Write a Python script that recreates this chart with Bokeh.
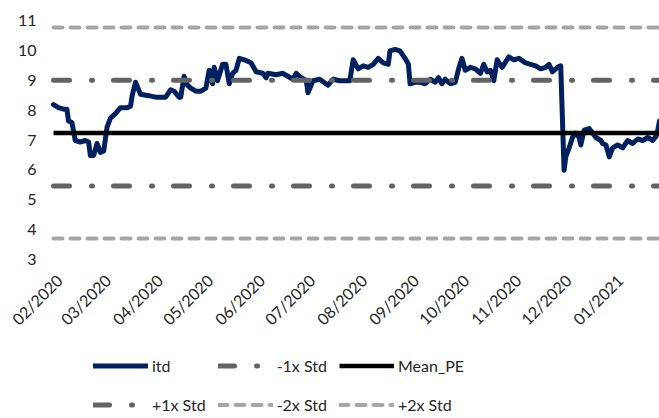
import numpy as np
import pandas as pd
from math import pi
from bokeh.plotting import figure
from bokeh.models import Range1d, Legend, LegendItem
from bokeh.core.properties import value
from bokeh.embed import file_html
from bokeh.resources import INLINE

start_date = "2020-02-01"
# days since start_date for each observation
day_offsets = [0, 3, 6, 8, 9, 11, 13, 16, 19, 21, 22, 24, 26, 28, 30, 32, 34, 37, 40, 44,
               46, 47, 49, 52, 57, 61, 67, 70, 72, 75, 76, 78, 80, 82, 85, 88, 91, 93, 95, 96,
               98, 101, 103, 105, 107, 109, 111, 114, 118, 121, 125, 127, 128, 133, 137, 140, 143, 145, 148, 151,
               152, 155, 159, 164, 167, 171, 174, 177, 179, 180, 182, 185, 188, 191, 194, 197, 200, 201, 204, 207,
               210, 212, 213, 216, 219, 222, 225, 228, 230, 232, 234, 237, 240, 242, 244, 246, 249, 252, 255, 257,
               259, 261, 263, 265, 268, 272, 275, 278, 282, 285, 288, 291, 294, 296, 298, 301, 303, 305, 306, 308,
               310, 312, 314, 315, 317, 320, 322, 324, 327, 328, 330, 332, 334, 337, 340, 343, 346, 349, 352, 355,
               358, 360, 361, 362]
itd = [8.15, 8.05, 8.0, 8.0, 7.6, 7.55, 6.95, 6.9, 6.95, 6.9, 6.45, 6.45, 6.85, 6.55, 6.6, 7.4, 7.7, 7.85, 8.05, 8.05,
       8.1, 8.45, 8.9, 8.5, 8.45, 8.4, 8.4, 8.65, 8.6, 8.4, 8.4, 9.1, 8.8, 8.7, 8.6, 8.6, 8.7, 9.3, 8.85, 9.4,
       8.95, 9.5, 9.5, 8.85, 9.2, 9.3, 9.7, 9.65, 9.55, 9.25, 9.2, 9.05, 9.2, 9.15, 9.2, 9.1, 9.0, 9.2, 9.05, 8.95,
       8.55, 8.95, 9.0, 8.8, 9.0, 8.95, 8.95, 8.95, 9.65, 9.55, 9.35, 9.45, 9.4, 9.5, 9.7, 9.55, 9.5, 9.95, 10.0, 9.95,
       9.7, 9.5, 8.85, 8.9, 8.9, 8.85, 9.0, 8.9, 9.05, 8.85, 9.0, 8.85, 8.9, 9.35, 9.7, 9.3, 9.4, 9.35, 9.2, 9.5,
       9.25, 9.3, 8.95, 9.65, 9.4, 9.75, 9.65, 9.7, 9.55, 9.5, 9.45, 9.35, 9.4, 9.5, 9.25, 9.4, 9.45, 5.95, 6.4, 6.7,
       7.05, 7.2, 7.05, 6.8, 7.3, 7.35, 7.2, 7.05, 6.95, 6.85, 6.8, 6.4, 6.7, 6.8, 6.7, 6.95, 6.85, 7.0, 6.95, 7.05,
       6.95, 7.1, 7.3, 7.6]

mean_pe = 7.2
plus_1x_std = 8.97
minus_1x_std = 5.43
plus_2x_std = 10.73
minus_2x_std = 3.67

month_labels = ["02/2020", "03/2020", "04/2020", "05/2020", "06/2020", "07/2020",
                "08/2020", "09/2020", "10/2020", "11/2020", "12/2020", "01/2021"]
y_ticks = [3, 4, 5, 6, 7, 8, 9, 10, 11]
y_tick_labels = ["3", "4", "5", "6", "7", "8", "9", "10", "11"]
y_min, y_max = 3, 11

start = pd.Timestamp(start_date)
tick_days = [int((pd.to_datetime(m, format="%m/%Y") - start).days) for m in month_labels]

FONT = "Lato"
TXT = "#262626"

# page geometry of the original chart
W, H = 659, 418
PLOT_TOP, PLOT_LEFT, PLOT_BOTTOM = 19, 53, 258
px_per_unit = (PLOT_BOTTOM - PLOT_TOP) / (y_max - y_min)
px_per_day = (W - PLOT_LEFT) / (day_offsets[-1] - day_offsets[0])
# the drawing area covers the whole canvas, so the date labels and the legend
# (which sit outside the plotting area in the original) are not clipped
y_lo = y_min - (H - PLOT_BOTTOM) / px_per_unit
y_hi = y_max + PLOT_TOP / px_per_unit
x_lo = day_offsets[0] - PLOT_LEFT / px_per_day

p = figure(width=W, height=H, output_backend="svg", toolbar_location=None,
           x_range=Range1d(x_lo, day_offsets[-1]), y_range=Range1d(y_lo, y_hi),
           min_border=0)
p.outline_line_color = None
p.grid.grid_line_color = None
p.background_fill_color = "white"
p.border_fill_color = "white"
p.xaxis.visible = False
p.yaxis.visible = False

xs = [day_offsets[0], day_offsets[-1]]
r_itd = p.line(day_offsets, itd, line_color="#002060", line_width=5, line_join="round", line_cap="round")
dd1 = "16 22 1 21"
r_m1 = p.line(xs, [minus_1x_std] * 2, line_color="#636363", line_width=5, line_dash=dd1, line_cap="round")
r_mean = p.line(xs, [mean_pe] * 2, line_color="black", line_width=4.5)
r_p1 = p.line(xs, [plus_1x_std] * 2, line_color="#636363", line_width=5, line_dash=dd1, line_cap="round")
dd2 = "9 8"
r_m2 = p.line(xs, [minus_2x_std] * 2, line_color="#A6A6A6", line_width=4, line_dash=dd2, line_cap="round")
r_p2 = p.line(xs, [plus_2x_std] * 2, line_color="#A6A6A6", line_width=4, line_dash=dd2, line_cap="round")

# value axis labels
p.text(x=[day_offsets[0]] * len(y_ticks), y=y_ticks, text=y_tick_labels,
       text_align="right", text_baseline="middle", x_offset=-17, y_offset=1,
       text_font=value(FONT), text_font_size="16px", text_color=TXT)
# date axis labels
p.text(x=tick_days, y=[y_min] * len(tick_days), text=month_labels, angle=pi / 4,
       text_align="right", text_baseline="top", x_offset=-1, y_offset=12,
       text_font=value(FONT), text_font_size="16px", text_color=TXT)

legend = Legend(items=[
    LegendItem(label="itd", renderers=[r_itd]),
    LegendItem(label="-1x Std", renderers=[r_m1]),
    LegendItem(label="Mean_PE", renderers=[r_mean]),
    LegendItem(label="+1x Std", renderers=[r_p1]),
    LegendItem(label="-2x Std", renderers=[r_m2]),
    LegendItem(label="+2x Std", renderers=[r_p2]),
], location=(93, 0), orientation="horizontal", ncols=3)
legend.glyph_width = 55
legend.glyph_height = 27
legend.label_height = 27
legend.label_width = 44
legend.label_standoff = 4
legend.spacing = 12
legend.padding = 0
legend.margin = 0
legend.border_line_color = None
legend.background_fill_alpha = 0
legend.label_text_font = FONT
legend.label_text_font_size = "16px"
legend.label_text_color = TXT
p.add_layout(legend)

open("out.html", "w").write(file_html(p, INLINE))
